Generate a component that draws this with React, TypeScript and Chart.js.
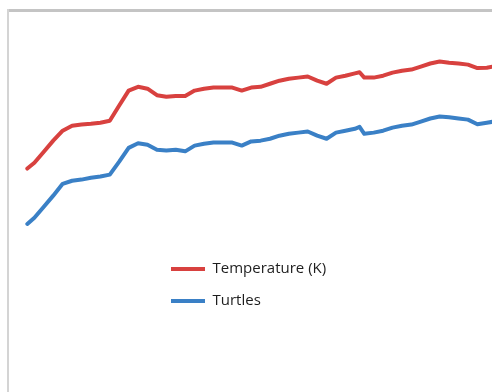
import React, { useEffect, useRef } from "react";
import { Chart, registerables } from "chart.js";

Chart.register(...registerables);

const time = [6.5, 8, 10, 12, 14, 16, 18, 20, 22, 24, 26, 28, 30, 32, 34, 36, 38, 40, 42, 44, 46, 48, 50, 52, 54, 56, 58, 60, 62, 64, 66, 68, 70, 72, 74, 76, 77, 78, 80, 82, 84, 86, 88, 90, 92, 94, 96, 98, 100, 102, 104, 106];

const temperature = [58.5, 60.0, 62.9, 65.8, 68.4, 69.7, 70.0, 70.2, 70.5, 71.0, 75.0, 78.9, 79.9, 79.4, 77.7, 77.3, 77.5, 77.5, 78.9, 79.4, 79.7, 79.7, 79.7, 78.9, 79.7, 79.9, 80.7, 81.5, 82.0, 82.3, 82.6, 81.5, 80.7, 82.3, 82.8, 83.4, 83.7, 82.3, 82.3, 82.8, 83.6, 84.1, 84.4, 85.2, 86.0, 86.5, 86.2, 86.0, 85.7, 84.8, 84.9, 85.3];

const turtles = [44.0, 45.6, 48.5, 51.4, 54.5, 55.3, 55.6, 56.1, 56.4, 56.9, 60.3, 63.9, 65.1, 64.7, 63.4, 63.2, 63.4, 63.0, 64.5, 65.0, 65.3, 65.3, 65.3, 64.5, 65.6, 65.8, 66.3, 67.1, 67.6, 67.9, 68.2, 67.1, 66.3, 67.9, 68.4, 68.9, 69.4, 67.6, 67.9, 68.4, 69.2, 69.7, 70.0, 70.8, 71.6, 72.1, 71.9, 71.6, 71.3, 70.1, 70.5, 70.9];

const seriesNames = ["Temperature (K)", "Turtles"];
const seriesColors = ["#d8413f", "#3a80c6"];

const legendPlacer = {
  id: "legendPlacer",
  beforeDraw(chart: any) {
    const lg = chart.legend;
    if (!lg) return;
    const w = lg.width;
    const h = lg.height;
    lg.left = 154;
    lg.top = 244.5;
    lg.right = 154 + w;
    lg.bottom = 244.5 + h;
  },
};

export default function App() {
  const ref = useRef<HTMLCanvasElement | null>(null);

  useEffect(() => {
    if (!ref.current) return;
    const series = [temperature, turtles];
    const chart = new Chart(ref.current, {
      type: "line",
      data: {
        datasets: series.map((vals, i) => ({
          label: seriesNames[i],
          data: vals.map((v, j) => ({ x: time[j], y: v })),
          borderColor: seriesColors[i],
          backgroundColor: seriesColors[i],
          borderWidth: 4,
          pointRadius: 0,
          tension: 0,
          borderJoinStyle: "round" as const,
          borderCapStyle: "round" as const,
        })),
      },
      options: {
        responsive: false,
        animation: false,
        events: [],
        layout: { padding: { top: 10, left: 8, right: 0, bottom: 0 } },
        scales: {
          x: {
            type: "linear",
            position: "top",
            min: 2.4,
            max: 105.1,
            ticks: { display: false },
            grid: { display: false, drawTicks: false },
            border: { display: true, color: "#c4c4c4", width: 3 },
          },
          y: {
            type: "linear",
            position: "left",
            min: 0,
            max: 100,
            ticks: { display: false },
            grid: { display: false, drawTicks: false },
            border: { display: true, color: "#d4d4d4", width: 2 },
          },
        },
        plugins: {
          tooltip: { enabled: false },
          legend: {
            display: true,
            position: "chartArea",
            align: "start",
            labels: {
              boxWidth: 34,
              boxHeight: 4,
              padding: 17,
              color: "#1e1e1e",
              font: { family: "'Open Sans'", size: 15 },
              generateLabels: (c: any) =>
                c.data.datasets.map((d: any, i: number) => ({
                  text: d.label,
                  fillStyle: d.borderColor,
                  strokeStyle: d.borderColor,
                  lineWidth: 0,
                  hidden: false,
                  datasetIndex: i,
                  fontColor: "#1e1e1e",
                })),
            },
          },
        },
      },
      plugins: [legendPlacer],
    } as any);
    return () => chart.destroy();
  }, []);

  return (
    <div style={{ position: "fixed", left: 0, top: 0, width: 492, height: 392, background: "#fff" }}>
      <canvas ref={ref} width={492} height={392} style={{ display: "block" }} />
    </div>
  );
}
